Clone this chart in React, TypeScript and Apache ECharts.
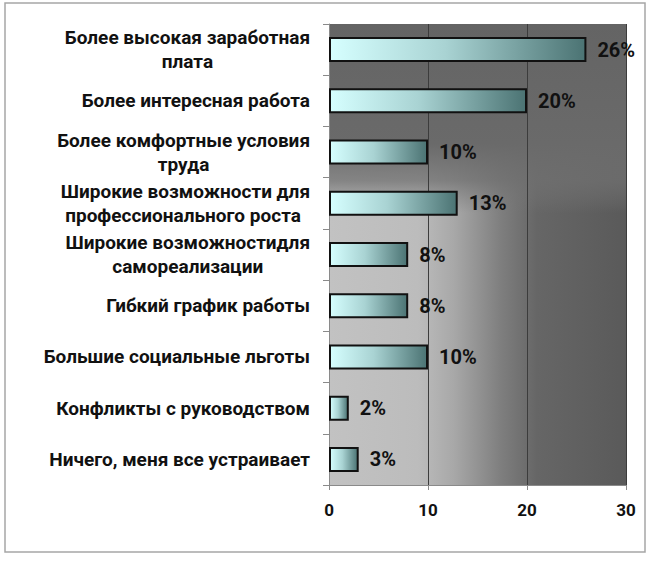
import React, { useEffect, useRef } from "react";
import * as echarts from "echarts";

const categories: string[] = [
  "Более высокая заработная\nплата",
  "Более интересная работа",
  "Более комфортные условия\nтруда",
  "Широкие возможности для\nпрофессионального роста ",
  "Широкие возможностидля\nсамореализации",
  "Гибкий график работы",
  "Большие социальные льготы",
  "Конфликты с руководством",
  "Ничего, меня все устраивает",
];
const values: number[] = [26, 20, 10, 13, 8, 8, 10, 2, 3];
const xMin = 0;
const xMax = 30;
const xStep = 10;

const FONT = "Roboto, 'Noto Sans', sans-serif";

export default function App() {
  const ref = useRef<HTMLDivElement>(null);
  useEffect(() => {
    if (!ref.current) return;
    const chart = echarts.init(ref.current, null, { renderer: "svg" });
    const gl = 329, gt = 24, gw = 297, gh = 461;
    chart.setOption({
      animation: false,
      backgroundColor: "#ffffff",
      graphic: [
        {
          type: "rect",
          z: -30,
          silent: true,
          shape: { x: 5, y: 3, width: 640, height: 549 },
          style: { fill: "#ffffff", stroke: "#a6a6a6", lineWidth: 1.5 },
        },
        {
          type: "rect",
          z: -20,
          silent: true,
          shape: { x: gl, y: gt, width: gw, height: gh },
          style: {
            fill: new echarts.graphic.LinearGradient(0, 0, 1, 0, [
              { offset: 0, color: "#c2c2c2" },
              { offset: 0.3, color: "#bcbcbc" },
              { offset: 0.42, color: "#a8a8a8" },
              { offset: 0.58, color: "#7e7e7e" },
              { offset: 0.7, color: "#666666" },
              { offset: 1, color: "#5a5a5a" },
            ]),
          },
        },
        {
          type: "rect",
          z: -10,
          silent: true,
          shape: { x: gl, y: gt, width: gw, height: gh },
          style: {
            fill: new echarts.graphic.LinearGradient(0, 0, 0, 1, [
              { offset: 0, color: "rgba(100,100,100,1)" },
              { offset: 0.26, color: "rgba(106,106,106,1)" },
              { offset: 0.34, color: "rgba(112,112,112,0.75)" },
              { offset: 0.41, color: "rgba(120,120,120,0)" },
              { offset: 1, color: "rgba(120,120,120,0)" },
            ]),
          },
        },
      ],
      grid: { left: gl, top: gt, width: gw, height: gh, containLabel: false },
      xAxis: {
        type: "value",
        min: xMin,
        max: xMax,
        interval: xStep,
        axisLine: { show: true, lineStyle: { color: "#8a8a8a", width: 1 } },
        axisTick: { show: true, length: 5, lineStyle: { color: "#8a8a8a" } },
        splitLine: { show: true, lineStyle: { color: "#3c3c3c", width: 1 } },
        axisLabel: {
          margin: 16,
          color: "#111",
          fontFamily: FONT,
          fontWeight: "bold",
          fontSize: 17,
        },
      },
      yAxis: {
        type: "category",
        inverse: true,
        data: categories,
        axisLine: { show: true, lineStyle: { color: "#8a8a8a", width: 1 } },
        axisTick: { show: true, length: 6, lineStyle: { color: "#8a8a8a" } },
        splitLine: { show: false },
        axisLabel: {
          margin: 19,
          color: "#111",
          fontFamily: FONT,
          fontWeight: "bold",
          fontSize: 19,
          lineHeight: 24,
          formatter: (v: string) =>
            v.split("\n").map((l) => `{c|${l}}`).join("\n"),
          rich: {
            c: {
              align: "center",
              color: "#111",
              fontFamily: FONT,
              fontWeight: "bold",
              fontSize: 19,
              lineHeight: 24,
            },
          },
        },
      },
      series: [
        {
          type: "bar",
          data: values,
          barWidth: 25,
          itemStyle: {
            borderColor: "#111",
            borderWidth: 2,
            color: new echarts.graphic.LinearGradient(0, 0, 1, 0, [
              { offset: 0, color: "#d6ffff" },
              { offset: 0.45, color: "#a9d3d3" },
              { offset: 1, color: "#4b7373" },
            ]),
          },
          label: {
            show: true,
            position: "right",
            distance: 11,
            formatter: "{c}%",
            color: "#111",
            fontFamily: FONT,
            fontWeight: "bold",
            fontSize: 20,
          },
        },
      ],
    });
    return () => chart.dispose();
  }, []);
  return (
    <div
      ref={ref}
      style={{ position: "absolute", left: 0, top: 0, width: 653, height: 564 }}
    />
  );
}
